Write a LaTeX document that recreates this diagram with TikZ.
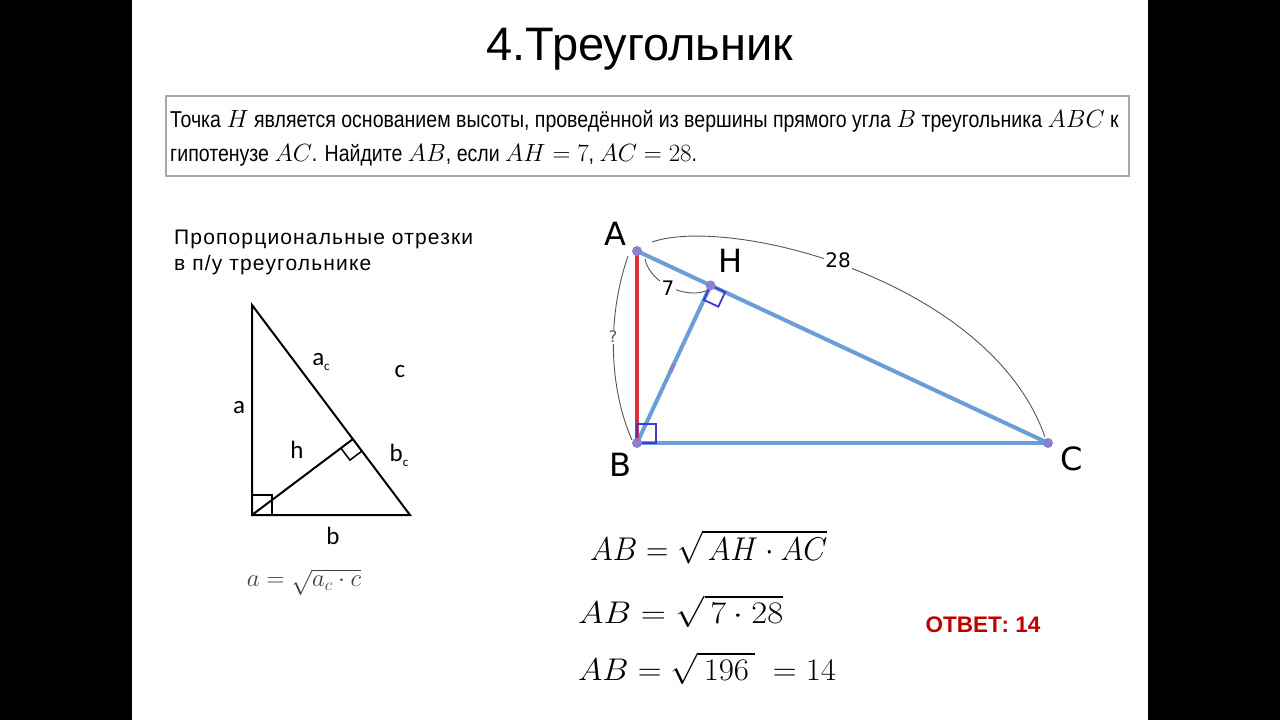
\documentclass[tikz,border=0pt]{standalone}
\usepackage{fontspec}
\setmainfont{Liberation Sans}
\newfontfamily\dejavu{DejaVu Sans}
\newfontfamily\carlito{Carlito}
\newfontfamily\probfont{Liberation Sans}[FakeStretch=0.85]
\newfontfamily\capfont{Liberation Sans}[LetterSpace=5.5]
\usetikzlibrary{calc}
\definecolor{lineblue}{HTML}{6A9ED6}
\definecolor{segred}{HTML}{E0303C}
\definecolor{dotpurple}{HTML}{8B7FD0}
\definecolor{markblue}{HTML}{3B3BD6}
\definecolor{ansred}{HTML}{C00000}
\definecolor{boxgray}{HTML}{A8A8A8}
\definecolor{arcgray}{HTML}{555555}
\tikzset{
  sideblue/.style={draw=lineblue, line width=4pt},
  sidered/.style={draw=segred, line width=4pt},
  rmark/.style={draw=markblue, line width=1.8pt},
  vdot/.style={circle, fill=dotpurple, inner sep=0pt, minimum size=10pt},
  vlabel/.style={font=\dejavu\fontsize{32}{34}\selectfont, inner sep=0pt},
  meas/.style={font=\dejavu\fontsize{20}{22}\selectfont, fill=white, inner sep=1.5pt},
  arcline/.style={draw=arcgray, line width=0.9pt},
  blk/.style={draw=black, line width=2pt},
  tlabel/.style={font=\carlito\fontsize{25}{27}\selectfont, inner sep=0pt},
  formula/.style={font=\fontsize{34}{36}\selectfont, anchor=base west, inner sep=0pt},
  probtext/.style={anchor=base west, inner sep=0pt, font=\probfont\fontsize{23}{26}\selectfont},
}
\begin{document}
\begin{tikzpicture}[x=1pt,y=-1pt]
\useasboundingbox (0,0) rectangle (1280,720);
\fill[black] (0,0) rectangle (132,720);
\fill[black] (1148,0) rectangle (1280,720);
\fill[white] (132,0) rectangle (1148,720);

% title
\node[font=\fontsize{47}{50}\selectfont, anchor=base, inner sep=0pt] (title) at (640,60) {4.Треугольник};

% problem box
\draw[boxgray, line width=1.2pt] (166,96) rectangle (1129,176);
\node[probtext] (prob1) at (170,127)
  {Точка $H$ является основанием высоты, проведённой из вершины прямого угла $B$ треугольника $ABC$ к};
\node[probtext] (prob2) at (170,161)
  {гипотенузе $AC$. Найдите $AB$, если $AH=7$, $AC=28$.};

% left caption
\node[anchor=base west, inner sep=0pt, font=\capfont\fontsize{21}{24}\selectfont] (cap1) at (174,244) {Пропорциональные отрезки};
\node[anchor=base west, inner sep=0pt, font=\capfont\fontsize{21}{24}\selectfont] (cap2) at (174,270) {в п/у треугольнике};

% left triangle
\coordinate (T) at (252,305);
\coordinate (P) at (252,515);
\coordinate (R) at (410,515);
\coordinate (F) at (352.9,439.1);
\draw[blk, line join=miter] (T) -- (P) -- (R) -- cycle;
\draw[blk] (P) -- (F);
\draw[black, line width=1.5pt] (252,495) -- (272,495) -- (272,515);
\draw[black, line width=1.5pt] ($(F)!15pt!(R)$) -- ($(F)!15pt!(R) + (F)!15pt!(P) - (F)$) -- ($(F)!15pt!(P)$);
\node[tlabel] (la) at (239,408) {a};
\node[tlabel] (lac) at (321,362) {a\raisebox{-0.4ex}{\fontsize{13}{14}\selectfont c}};
\node[tlabel] (lc) at (400,372) {c};
\node[tlabel] (lh) at (297,450) {h};
\node[tlabel] (lbc) at (399,455) {b\raisebox{-0.4ex}{\fontsize{13}{14}\selectfont c}};
\node[tlabel] (lb) at (333,536) {b};
\node[font=\fontsize{24}{26}\selectfont, text=black!75, inner sep=0pt] (lform) at (304,582) {$a=\sqrt{a_c\cdot c}$};

% right triangle
\coordinate (A) at (637,251);
\coordinate (B) at (637,443);
\coordinate (C) at (1048,443);
\coordinate (H) at (710.6,285.4);
\draw[sideblue] (B) -- (C);
\draw[sideblue] (A) -- (C);
\draw[sideblue] (B) -- (H);
\draw[dotpurple!80!lineblue, line width=4pt] ($(B)!0.45!(H)$) -- ($(B)!0.5!(H)$);
\draw[sidered] (A) -- (B);
\draw[rmark] (B) rectangle ++(19,-19);
\draw[rmark] (H) -- ($(H)!16pt!(C)$) -- ($(H)!16pt!(C) + (H)!16pt!(B) - (H)$) -- ($(H)!16pt!(B)$) -- cycle;
\node[vdot] (dA) at (A) {};
\node[vdot] (dH) at (H) {};
\node[vdot] (dB) at (B) {};
\node[vdot] (dC) at (C) {};
\node[vlabel] (nA) at (615,234) {A};
\node[vlabel] (nH) at (731,261) {H};
\node[vlabel] (nB) at (620,465) {B};
\node[vlabel] (nC) at (1072,459) {C};

% measure arcs
\draw[arcline] (652,242) .. controls (730,215) and (990,280) .. (1045,437);
\node[meas] (m28) at (838,260) {28};
\draw[arcline] (645,259) .. controls (650,284) and (688,300) .. (708,290);
\node[meas] (m7) at (668,288) {7};
\draw[arcline] (628,256) .. controls (606,320) and (610,390) .. (632,440);
\node[meas, font=\dejavu\fontsize{16}{18}\selectfont, text=arcgray] (mq) at (613,337) {?};

% formulas
\node[formula] (f1) at (590,560) {\resizebox{237pt}{30pt}{$AB=\sqrt{\,AH\cdot AC}$}};
\node[formula] (f2) at (578,623) {\resizebox{205pt}{28pt}{$AB=\sqrt{\,7\cdot 28}$}};
\node[formula] (f3) at (578,680) {\resizebox{258pt}{28pt}{$AB=\sqrt{\,196\,}\;=14$}};

\node[font=\bfseries\fontsize{22.5}{24}\selectfont, text=ansred, inner sep=0pt] (ans) at (983,625) {ОТВЕТ: 14};
\end{tikzpicture}
\end{document}
